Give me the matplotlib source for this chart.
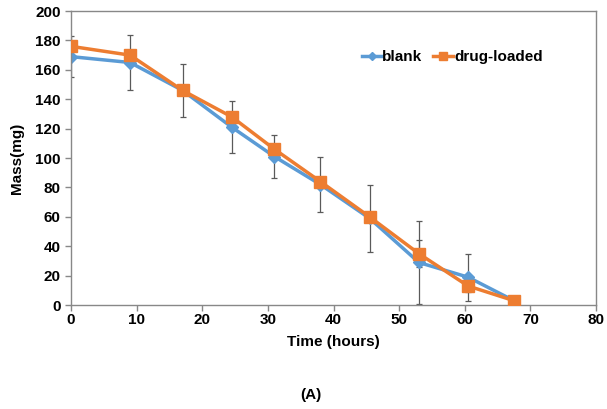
import numpy as np
import matplotlib
matplotlib.use('Agg')
from matplotlib import pyplot as plt

# values
time = [0, 9, 17, 24.5, 31, 38, 45.5, 53, 60.5, 67.5]
blank = [169, 165, 146, 121, 101, 82, 59, 29, 19, 3]
blank_err = [14, 19, 18, 17.5, 14.5, 19, 23, 28, 16, 1]
drug = [176, 170, 146, 128, 106, 84, 60, 35, 13, 3]
drug_err = [3, 3, 3, 3, 3, 3, 3, 9, 4, 1]

plt.rcParams['font.family'] = ['Liberation Sans', 'DejaVu Sans']
plt.rcParams['font.weight'] = 'bold'

fig = plt.figure(figsize=(6.07, 4.09), dpi=100)
ax = fig.add_axes([0.117, 0.254, 0.865, 0.719])

ax.errorbar(time, blank, yerr=blank_err, fmt='none', ecolor='#5a5a5a',
            elinewidth=0.9, capsize=2.5, capthick=0.9, zorder=1)
ax.errorbar(time, drug, yerr=drug_err, fmt='none', ecolor='#5a5a5a',
            elinewidth=0.9, capsize=2.5, capthick=0.9, zorder=1)
ax.plot(time, blank, color='#5B9BD5', lw=2.5, marker='D', ms=6.5,
        label='blank', zorder=2)
ax.plot(time, drug, color='#ED7D31', lw=2.5, marker='s', ms=9,
        label='drug-loaded', zorder=3)

ax.set_xlim(0, 80)
ax.set_ylim(0, 200)
ax.set_xticks(np.arange(0, 81, 10))
ax.set_yticks(np.arange(0, 201, 20))
ax.tick_params(labelsize=11, length=4, color='#888888', width=1)
ax.tick_params(axis='x', pad=1.5)
for s in ax.spines.values():
    s.set_color('#888888')
    s.set_linewidth(1)
ax.set_xlabel('Time (hours)', fontsize=11, fontweight='bold', labelpad=6)
ax.set_ylabel('Mass(mg)', fontsize=11, fontweight='bold', labelpad=8)

ax.legend(loc='center', bbox_to_anchor=(0.726, 0.843), ncol=2, frameon=False,
          fontsize=11, handlelength=1.3, columnspacing=0.7, handletextpad=0.05,
          markerscale=0.6)

fig.text(0.512, 0.034, '(A)', ha='center', va='center', fontsize=11,
         fontweight='bold')

plt.savefig('out.png')
